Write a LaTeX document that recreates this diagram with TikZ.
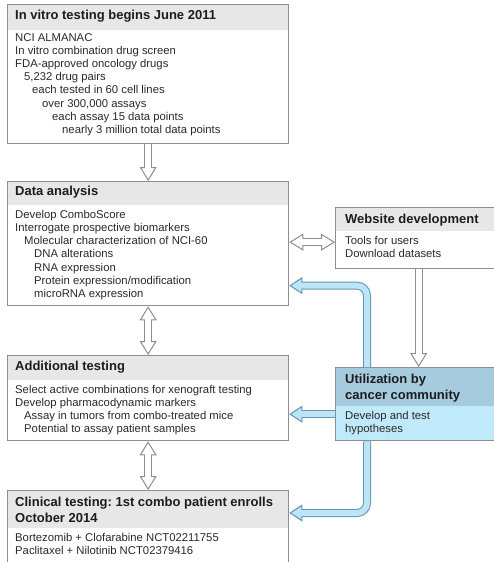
\documentclass[tikz,border=0pt]{standalone}
\usepackage{fontspec}
\setmainfont{Liberation Sans}
\frenchspacing
\usetikzlibrary{arrows.meta,calc}

\definecolor{framegray}{HTML}{8E8E8E}
\definecolor{headgray}{HTML}{E7E7E7}
\definecolor{textgray}{HTML}{2A2A2A}
\definecolor{commhead}{HTML}{A6CBDF}
\definecolor{commbody}{HTML}{C0E9FA}
\definecolor{flowfill}{HTML}{BCE5F8}
\definecolor{flowedge}{HTML}{6595B5}

\newcommand{\ind}[1]{\hspace*{#1pt}}

\tikzset{
	panel/.style={draw=framegray, line width=1.3pt, fill=white, anchor=north west, inner sep=0pt},
	head/.style 2 args={path picture={\fill[#1] (path picture bounding box.north west) rectangle ([yshift=-#2]path picture bounding box.north east);}},
	paneltitle/.style={anchor=west, inner sep=0pt, align=left, text=textgray!70!black, font=\fontsize{13}{15.5}\selectfont\bfseries},
	paneltext/.style={anchor=north west, inner sep=0pt, align=left, text=textgray, font=\fontsize{11.3}{13.2}\selectfont},
	hollow/.style={line width=8pt, draw=framegray, -{Triangle[length=14pt, width=17pt, fill=white, line width=1pt]}, postaction={draw=white, line width=6pt, -, shorten >=9pt}},
	hollowboth/.style={line width=8pt, draw=framegray, {Triangle[length=14pt, width=17pt, fill=white, line width=1pt]}-{Triangle[length=14pt, width=17pt, fill=white, line width=1pt]}, postaction={draw=white, line width=6pt, -, shorten >=9pt, shorten <=9pt}},
	flow/.style={line width=8pt, draw=flowedge, rounded corners=10pt, -{Triangle[length=13pt, width=17pt, fill=flowfill, line width=1pt]}, postaction={draw=flowfill, line width=6pt, -, shorten >=9pt}}
}

\begin{document}
\begin{tikzpicture}[x=1pt, y=-1pt]
	\clip (0,0) rectangle (494,562);
	\fill[white] (0,0) rectangle (494,562);

	\node[panel, head={headgray}{25pt}, minimum width=281pt, minimum height=139pt] (vitro) at (7,4) {};
	\node[paneltitle] (vitrotitle) at ([xshift=8pt, yshift=-12.5pt]vitro.north west) {In vitro testing begins June 2011};
	\node[paneltext] (vitrotext) at ([xshift=8pt, yshift=-29pt]vitro.north west) {NCI ALMANAC\\
		In vitro combination drug screen\\
		FDA-approved oncology drugs\\
		\ind{9}5,232 drug pairs\\
		\ind{17}each tested in 60 cell lines\\
		\ind{27}over 300,000 assays\\
		\ind{37}each assay 15 data points\\
		\ind{47}nearly 3 million total data points};

	\node[panel, head={headgray}{23pt}, minimum width=281pt, minimum height=124pt] (analysis) at (7,181) {};
	\node[paneltitle] (analysistitle) at ([xshift=8pt, yshift=-11.5pt]analysis.north west) {Data analysis};
	\node[paneltext] (analysistext) at ([xshift=8pt, yshift=-29pt]analysis.north west) {Develop ComboScore\\
		Interrogate prospective biomarkers\\
		\ind{9}Molecular characterization of NCI-60\\
		\ind{19}DNA alterations\\
		\ind{19}RNA expression\\
		\ind{19}Protein expression/modification\\
		\ind{19}microRNA expression};

	\node[panel, head={headgray}{24pt}, minimum width=281pt, minimum height=85pt] (additional) at (7,355) {};
	\node[paneltitle] (additionaltitle) at ([xshift=8pt, yshift=-12pt]additional.north west) {Additional testing};
	\node[paneltext] (additionaltext) at ([xshift=8pt, yshift=-30pt]additional.north west) {Select active combinations for xenograft testing\\
		Develop pharmacodynamic markers\\
		\ind{9}Assay in tumors from combo-treated mice\\
		\ind{9}Potential to assay patient samples};

	\node[panel, head={headgray}{37pt}, minimum width=281pt, minimum height=90pt] (clinical) at (7,490) {};
	\node[paneltitle] (clinicaltitle) at ([xshift=8pt, yshift=-20pt]clinical.north west) {Clinical testing: 1st combo patient enrolls\\October 2014};
	\node[paneltext] (clinicaltext) at ([xshift=8pt, yshift=-43pt]clinical.north west) {Bortezomib + Clofarabine NCT02211755\\
		Paclitaxel + Nilotinib NCT02379416};

	\node[panel, head={headgray}{23pt}, minimum width=166pt, minimum height=61pt] (website) at (335,207) {};
	\node[paneltitle] (websitetitle) at ([xshift=10pt, yshift=-13pt]website.north west) {Website development};
	\node[paneltext] (websitetext) at ([xshift=10pt, yshift=-29pt]website.north west) {Tools for users\\
		Download datasets};

	\node[panel, fill=commbody, head={commhead}{38pt}, minimum width=166pt, minimum height=73pt] (comm) at (335,367) {};
	\node[paneltitle] (commtitle) at ([xshift=10pt, yshift=-21pt]comm.north west) {Utilization by\\cancer community};
	\node[paneltext] (commtext) at ([xshift=10pt, yshift=-44pt]comm.north west) {Develop and test\\
		hypotheses};

	\draw[hollow] (vitro.south) -- (analysis.north);
	\draw[hollowboth] (analysis.south) -- (additional.north);
	\draw[hollowboth] (additional.south) -- (clinical.north);
	\coordinate (webleft) at ([yshift=-4pt]website.west);
	\draw[hollowboth] (webleft -| analysis.east) -- (webleft);
	\draw[hollow] (website.south) -- (website.south |- comm.north);

	\coordinate (commtop) at ([xshift=32pt]comm.north west);
	\coordinate (commbottom) at ([xshift=32pt]comm.south west);
	\coordinate (commleft) at ([yshift=-10pt]comm.west);
	\draw[flow] (commtop) |- ([yshift=-42pt]analysis.east);
	\draw[flow] (commleft) -- (commleft -| additional.east);
	\draw[flow] (commbottom) |- ([yshift=-23pt]clinical.north east);
\end{tikzpicture}
\end{document}
